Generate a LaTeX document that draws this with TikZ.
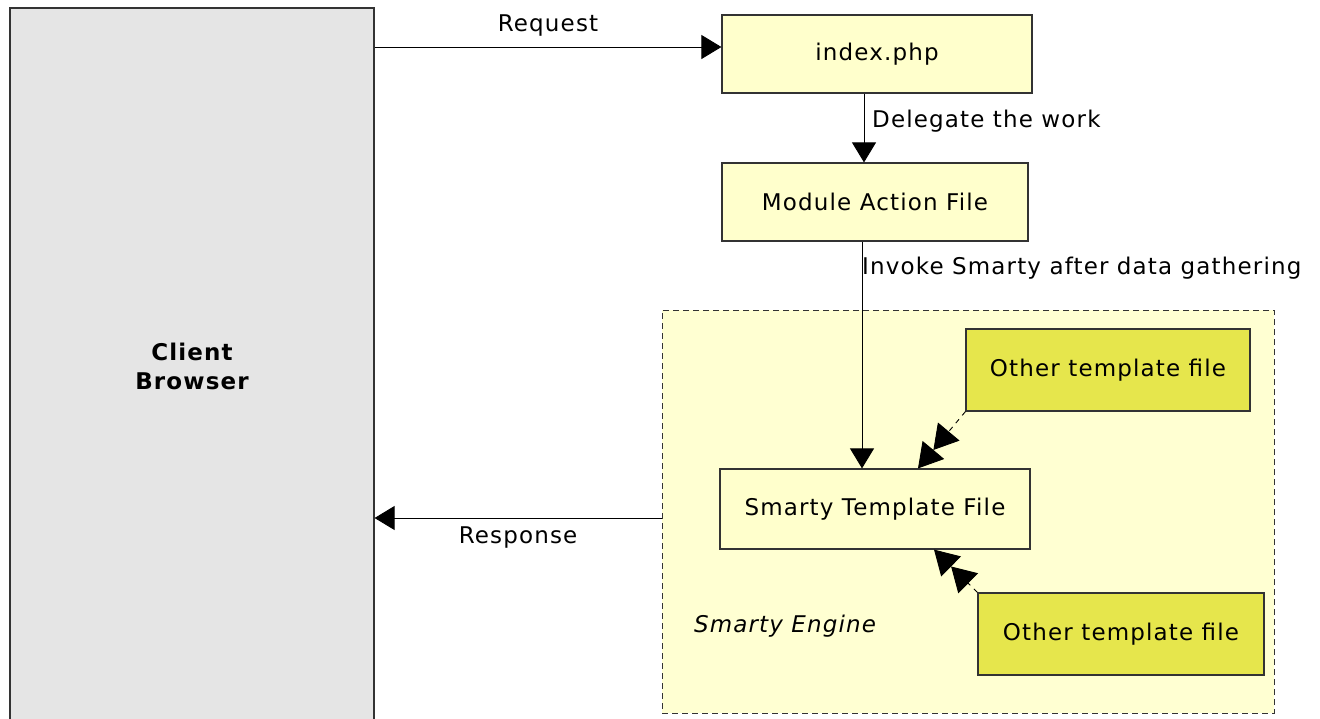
\documentclass[tikz,border=0pt]{standalone}
\usepackage{fontspec}
\setmainfont{DejaVu Sans}[LetterSpace=5]
\usepackage{tikz}
\usetikzlibrary{arrows.meta,backgrounds}
\definecolor{browsergray}{HTML}{E5E5E5}
\definecolor{paleyellow}{HTML}{FFFFCC}
\definecolor{enginebg}{HTML}{FFFFD2}
\definecolor{darkyellow}{HTML}{E6E64C}
\tikzset{
  filebox/.style={draw=black!80, fill=paleyellow, line width=1.2pt, minimum width=310, minimum height=78, inner sep=0pt},
  otherbox/.style={draw=black!80, fill=darkyellow, line width=1.2pt, minimum width=285, minimum height=82, inner sep=0pt},
  flow/.style={-{Triangle[length=20pt,width=24pt]}, line width=0.9pt},
  include/.style={-{Triangle[length=24pt,width=28pt]Triangle[length=24pt,width=28pt]}, dash pattern=on 5pt off 5pt, line width=0.9pt},
  lbl/.style={inner sep=0pt}
}
\begin{document}
\begin{tikzpicture}[x=1pt,y=-1pt,font=\fontsize{23}{27}\selectfont]
      \useasboundingbox[fill=white](0,0) rectangle (1320,718);
      \node[name=browser, draw=black!80, fill=browsergray, line width=1.2pt, minimum width=364, minimum height=716, inner sep=0pt, align=center, font=\fontsize{23}{29}\selectfont\bfseries] at (192,366){Client\\Browser};
      \node[name=engine, draw=black!80, fill=enginebg, dash pattern=on 6pt off 4pt, line width=0.9pt, minimum width=612, minimum height=403, inner sep=0pt] at (968,511.5){};
      \node[name=index, filebox] at (877,54){index.php};
      \node[name=action, filebox, minimum width=306] at (875,202){Module Action File};
      \node[name=smarty, filebox, minimum height=80] at (875,509){Smarty Template File};
      \node[name=other1, otherbox, minimum width=284] at (1108,370){Other template file};
      \node[name=other2, otherbox, minimum width=286] at (1121,634){Other template file};
      \node[name=enginelbl, lbl, font=\fontsize{23}{27}\selectfont\itshape] at (785,626){Smarty Engine};
      % connectors
      \coordinate (reqstart) at (browser.east |- 0,47);
      \draw[flow] (reqstart) -- (index.west |- reqstart) node[name=reqlbl, midway, above=10pt, lbl]{Request};
      \draw[flow] (index.south -| 864,0) -- (action.north -| 864,0);
      \node[name=delegatelbl, lbl, anchor=west] at (872,121){Delegate the work};
      \draw[flow] (action.south -| 862,0) -- (smarty.north -| 862,0);
      \node[name=invokelbl, lbl, anchor=west] at (862,268){Invoke Smarty after data gathering};
      \coordinate (respstart) at (engine.west |- 0,518);
      \draw[flow] (respstart) -- (browser.east |- respstart) node[name=resplbl, midway, below=8pt, lbl]{Response};
      \draw[include] (other1.south west) -- (smarty.north -| 918,0);
      \draw[include] (other2.north west) -- (smarty.south -| 934,0);
   \end{tikzpicture}
\end{document}
